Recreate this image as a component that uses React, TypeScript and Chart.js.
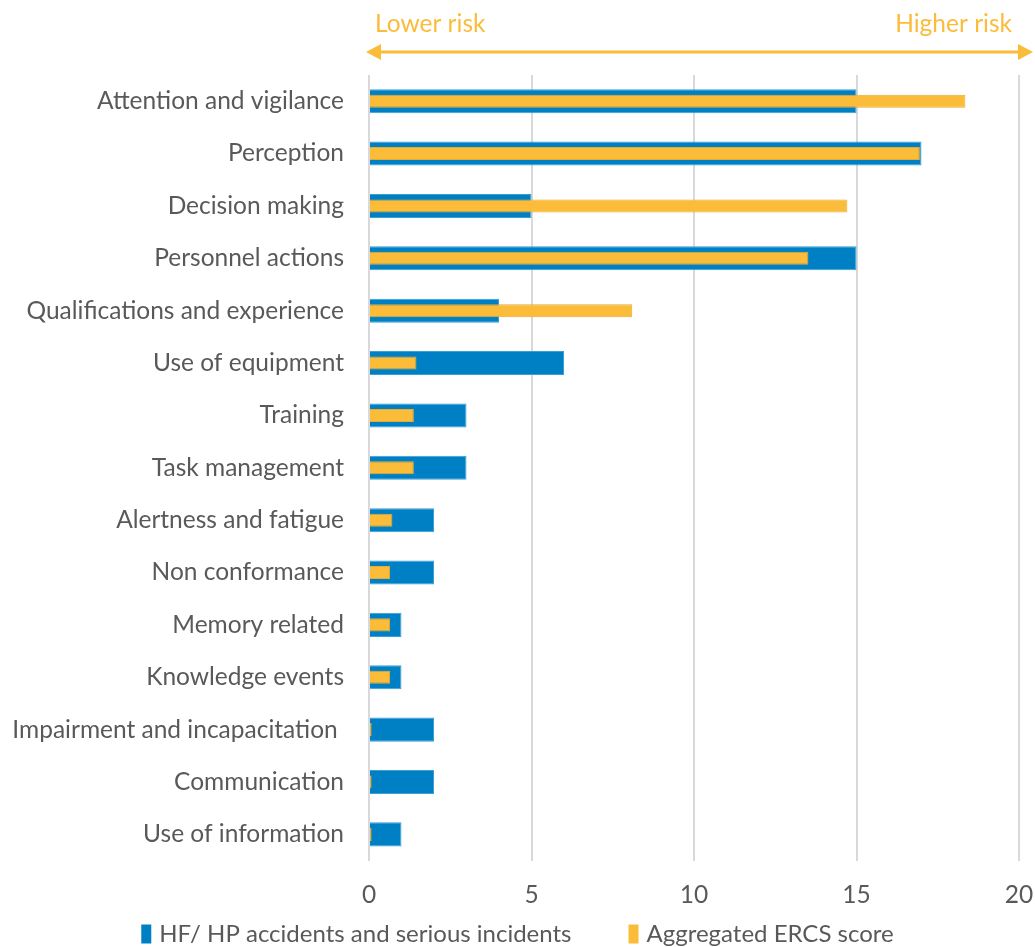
import React, { useEffect, useRef } from "react";
import { Chart, registerables } from "chart.js";

Chart.register(...registerables);

const categories = [
  "Attention and vigilance",
  "Perception",
  "Decision making",
  "Personnel actions",
  "Qualifications and experience",
  "Use of equipment",
  "Training",
  "Task management",
  "Alertness and fatigue",
  "Non conformance",
  "Memory related",
  "Knowledge events",
  "Impairment and incapacitation ",
  "Communication",
  "Use of information",
];

const hfAccidents = [15, 17, 5, 15, 4, 6, 3, 3, 2, 2, 1, 1, 2, 2, 1];
const ercsScore = [18.35, 16.95, 14.72, 13.52, 8.1, 1.46, 1.38, 1.38, 0.72, 0.65, 0.65, 0.65, 0.08, 0.08, 0.08];

const xTicks = [0, 5, 10, 15, 20];
const seriesNames = ["HF/ HP accidents and serious incidents", "Aggregated ERCS score"];
const riskLabels = ["Lower risk", "Higher risk"];

const BLUE = "#0080C4";
const ORANGE = "#FBBC3A";
const TEXT = "#595959";
const FONT = "Lato";
const FS = 24.5;
const LEGEND_FS = 24;

const riskArrow = {
  id: "riskArrow",
  afterDraw(chart: any) {
    const { ctx, chartArea } = chart;
    const y = 52;
    const x1 = chartArea.left - 3;
    const x2 = chartArea.right + 14;
    ctx.save();
    ctx.strokeStyle = ORANGE;
    ctx.fillStyle = ORANGE;
    ctx.lineWidth = 3;
    ctx.beginPath();
    ctx.moveTo(x1 + 8, y);
    ctx.lineTo(x2 - 8, y);
    ctx.stroke();
    ctx.beginPath();
    ctx.moveTo(x1, y);
    ctx.lineTo(x1 + 15, y - 8);
    ctx.lineTo(x1 + 15, y + 8);
    ctx.closePath();
    ctx.fill();
    ctx.beginPath();
    ctx.moveTo(x2, y);
    ctx.lineTo(x2 - 15, y - 8);
    ctx.lineTo(x2 - 15, y + 8);
    ctx.closePath();
    ctx.fill();
    ctx.font = `${FS}px ${FONT}`;
    ctx.textBaseline = "middle";
    ctx.textAlign = "left";
    ctx.fillText(riskLabels[0], chartArea.left + 6, 24);
    ctx.textAlign = "right";
    ctx.fillText(riskLabels[1], chartArea.right - 7, 24);
    ctx.restore();
  },
};

const bottomLegend = {
  id: "bottomLegend",
  afterDraw(chart: any) {
    const { ctx } = chart;
    const datasets = chart.data.datasets;
    const y = 934;
    const boxW = 10;
    const boxH = 19;
    const gapBoxText = 8;
    const gapItems = 57;
    ctx.save();
    ctx.font = `${LEGEND_FS}px ${FONT}`;
    const widths = datasets.map((d: any) => ctx.measureText(d.label).width);
    let total = 0;
    widths.forEach((w: number, i: number) => {
      total += boxW + gapBoxText + w + (i < widths.length - 1 ? gapItems : 0);
    });
    let x = (chart.width - total) / 2;
    datasets.forEach((d: any, i: number) => {
      ctx.fillStyle = d.backgroundColor;
      ctx.fillRect(x, y - boxH / 2, boxW, boxH);
      x += boxW + gapBoxText;
      ctx.fillStyle = TEXT;
      ctx.textAlign = "left";
      ctx.textBaseline = "middle";
      ctx.fillText(d.label, x, y);
      x += widths[i] + gapItems;
    });
    ctx.restore();
  },
};

export default function App() {
  const canvasRef = useRef<HTMLCanvasElement | null>(null);

  useEffect(() => {
    document.body.style.margin = "0";
    const canvas = canvasRef.current;
    if (!canvas) return;
    const chart = new Chart(canvas, {
      type: "bar",
      data: {
        labels: categories,
        datasets: [
          {
            label: seriesNames[0],
            data: hfAccidents,
            backgroundColor: BLUE,
            borderColor: "#3A9FD6",
            borderWidth: 1,
            barPercentage: 0.46,
            categoryPercentage: 1,
            order: 1,
          },
          {
            label: seriesNames[1],
            data: ercsScore,
            backgroundColor: ORANGE,
            borderColor: "#E8AA30",
            borderWidth: 1,
            barPercentage: 0.25,
            categoryPercentage: 1,
            order: 0,
          },
        ],
      },
      options: {
        indexAxis: "y",
        animation: false,
        responsive: false,
        maintainAspectRatio: false,
        layout: { padding: { top: 75, right: 0, left: 0, bottom: 17 } },
        scales: {
          x: {
            type: "linear",
            min: 0,
            max: 20,
            afterBuildTicks(scale: any) {
              scale.ticks = xTicks.map((v) => ({ value: v }));
            },
            afterFit(scale: any) {
              scale.paddingRight = 16;
              scale.paddingLeft = 0;
            },
            grid: { color: "#D9D9D9", lineWidth: 2, drawTicks: false },
            border: { display: false },
            ticks: {
              color: TEXT,
              font: { family: FONT, size: FS },
              padding: 20,
            },
          },
          y: {
            type: "category",
            afterFit(scale: any) {
              scale.width = 369;
            },
            grid: { display: false, drawTicks: false },
            border: { display: false },
            ticks: {
              color: TEXT,
              font: { family: FONT, size: FS },
              padding: 25,
              autoSkip: false,
            },
          } as any,
        },
        datasets: { bar: { grouped: false } } as any,
        plugins: {
          legend: { display: false },
          tooltip: { enabled: false },
        },
      },
      plugins: [riskArrow, bottomLegend],
    });
    return () => chart.destroy();
  }, []);

  return (
    <div style={{ width: 1035, height: 947 }}>
      <canvas ref={canvasRef} width={1035} height={947} style={{ display: "block" }} />
    </div>
  );
}
